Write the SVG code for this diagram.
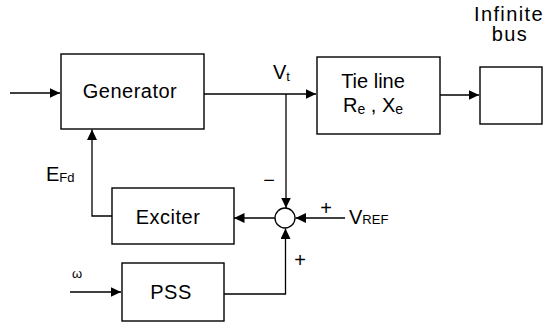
<svg xmlns="http://www.w3.org/2000/svg" width="543" height="324" viewBox="0 0 543 324">
<style>
.box{fill:#fff;stroke:#000;stroke-width:1.4}
.ln{fill:none;stroke:#000;stroke-width:1.3}
.t{font-family:"Liberation Sans",Arial,sans-serif;font-size:20px;fill:#000}
.s{font-family:"Liberation Sans",Arial,sans-serif;font-size:13px;fill:#000}
</style>
<defs>
<marker id="ah" markerUnits="userSpaceOnUse" markerWidth="11" markerHeight="10" refX="10.5" refY="5" orient="auto">
<path d="M0,0 L10.5,5 L0,10 z" fill="#000"/>
</marker>
</defs>
<rect width="543" height="324" fill="#fff"/>
<g id="connectors">
<path class="ln" d="M10,93 H60" marker-end="url(#ah)"/>
<path class="ln" d="M204,94 H316" marker-end="url(#ah)"/>
<path class="ln" d="M440,95 H479" marker-end="url(#ah)"/>
<path class="ln" d="M286,94 V208" marker-end="url(#ah)"/>
<path class="ln" d="M345,218 H295.5" marker-end="url(#ah)"/>
<path class="ln" d="M223,294 H285.5 V228.5" marker-end="url(#ah)"/>
<path class="ln" d="M275,218 H234" marker-end="url(#ah)"/>
<path class="ln" d="M112,216 H92 V129.5" marker-end="url(#ah)"/>
<path class="ln" d="M70,292 H121" marker-end="url(#ah)"/>
</g>
<g id="generator">
<rect class="box" x="61" y="54" width="143" height="75"/>
<text class="t" x="130" y="98" text-anchor="middle" letter-spacing="0.5">Generator</text>
</g>
<g id="tieline">
<rect class="box" x="317" y="57" width="123" height="77"/>
<text class="t" x="373" y="88" text-anchor="middle">Tie line</text>
<text class="t" x="343" y="112">R<tspan font-size="14" dy="2">e</tspan><tspan dy="-2"> , X</tspan><tspan font-size="14" dy="2">e</tspan></text>
</g>
<g id="infinitebus">
<rect class="box" x="480" y="67" width="62" height="57"/>
<text class="t" x="509" y="21" text-anchor="middle" font-size="16" letter-spacing="1.4">Infinite</text>
<text class="t" x="510" y="41" text-anchor="middle" font-size="16" letter-spacing="1.4">bus</text>
</g>
<g id="exciter">
<rect class="box" x="112" y="188" width="122" height="56"/>
<text class="t" x="168" y="224" text-anchor="middle" letter-spacing="0.5">Exciter</text>
</g>
<g id="pss">
<rect class="box" x="122" y="263" width="102" height="58"/>
<text class="t" x="171" y="299" text-anchor="middle" letter-spacing="0.5">PSS</text>
</g>
<g id="sum">
<circle cx="285" cy="218" r="10" fill="#fff" stroke="#000" stroke-width="1.3"/>
</g>
<g id="labels">
<text class="t" x="273" y="79" font-size="19">V<tspan font-size="13" dy="2">t</tspan></text>
<text class="t" x="46" y="181" font-size="19">E<tspan font-size="13" dy="1">Fd</tspan></text>
<text class="t" x="349" y="224" font-size="19">V<tspan font-size="13">REF</tspan></text>
<text class="s" x="77" y="278" text-anchor="middle">ω</text>
<text class="t" x="269" y="187" text-anchor="middle">−</text>
<text class="t" x="326" y="215" text-anchor="middle">+</text>
<text class="t" x="300" y="267" text-anchor="middle">+</text>
</g>
</svg>
